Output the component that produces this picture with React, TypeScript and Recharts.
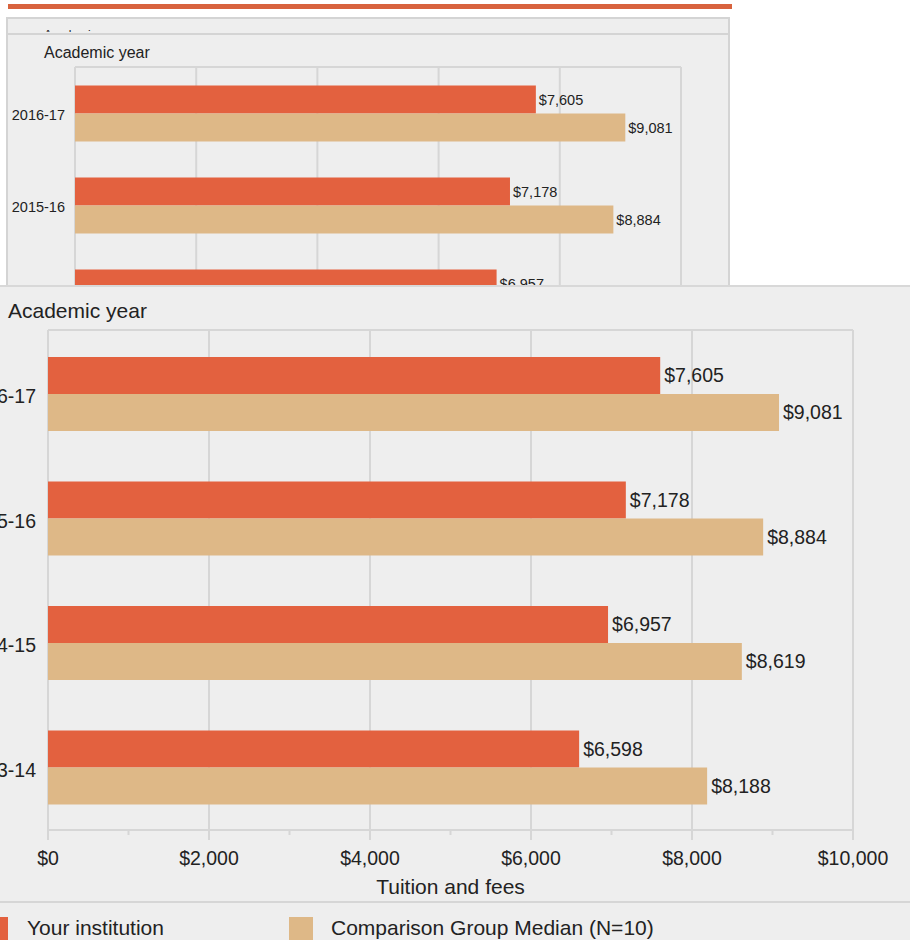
import React from "react";
import {
  BarChart,
  Bar,
  XAxis,
  YAxis,
  CartesianGrid,
  LabelList
} from "recharts";

const FONT = '"Liberation Sans", Arial, Helvetica, sans-serif';

const years = ["2016-17", "2015-16", "2014-15", "2013-14"];
const institution = [7605, 7178, 6957, 6598];
const groupMedian = [9081, 8884, 8619, 8188];

const xTicks = [0, 1000, 2000, 3000, 4000, 5000, 6000, 7000, 8000, 9000, 10000];
const majorTicks = [0, 2000, 4000, 6000, 8000, 10000];

const series = [
  { key: "institution", name: "Your institution", color: "#E3613F" },
  { key: "median", name: "Comparison Group Median (N=10)", color: "#DEB887" }
];

const data = years.map((year, i) => ({
  year,
  institution: institution[i],
  median: groupMedian[i]
}));

const GRID = "#d6d6d6";
const TEXT = "#222";

const money = (v: any) => "$" + Number(v).toLocaleString("en-US");

// tick with long marks on the labelled values and short marks in between
function makeTick(size: number, majorLen: number, minorLen: number, gap: number) {
  return (props: any) => {
    const { x, y, payload } = props;
    const major = payload.value % 2000 === 0;
    return (
      <g>
        <line x1={x} x2={x} y1={y} y2={y + (major ? majorLen : minorLen)} stroke={GRID} strokeWidth={2} />
        {major && (
          <text x={x} y={y + gap} dy="0.35em" textAnchor="middle" fontSize={size} fill={TEXT}>
            {money(payload.value)}
          </text>
        )}
      </g>
    );
  };
}

const verticalLines = ({ offset }: any) =>
  majorTicks.map((v) => offset.left + (v / 10000) * offset.width);
const topLine = ({ offset }: any) => [offset.top];

function TuitionChart({
  width,
  height,
  margin,
  yWidth,
  xHeight,
  valueSize,
  titleSize,
  labelGap,
  tickGap,
  padTop,
  titleOffset,
  scale
}: any) {
  return (
    <BarChart
      width={width}
      height={height}
      data={data}
      layout="vertical"
      margin={margin}
      barCategoryGap="20%"
      barGap={0}
    >
      <CartesianGrid
        stroke={GRID}
        strokeWidth={2}
        verticalCoordinatesGenerator={verticalLines}
        horizontalCoordinatesGenerator={topLine}
      />
      <XAxis
        type="number"
        domain={[0, 10000]}
        ticks={xTicks}
        interval={0}
        tickSize={0}
        tickMargin={0}
        tickLine={false}
        axisLine={{ stroke: GRID, strokeWidth: 2 }}
        tick={makeTick(valueSize, 10 * scale, 5 * scale, tickGap)}
        height={xHeight}
        label={{
          value: "Tuition and fees",
          position: "insideBottom",
          offset: titleOffset,
          fontSize: titleSize,
          fill: TEXT
        }}
      />
      <YAxis
        type="category"
        dataKey="year"
        width={yWidth}
        tickSize={0}
        tickMargin={labelGap}
        tickLine={false}
        axisLine={false}
        padding={{ top: padTop, bottom: 0 }}
        tick={{ fontSize: valueSize, fill: TEXT, dy: 2 * scale }}
      />
      {series.map((s) => (
        <Bar key={s.key} dataKey={s.key} name={s.name} fill={s.color} isAnimationActive={false}>
          <LabelList
            dataKey={s.key}
            position="right"
            offset={4 * scale}
            formatter={money}
            fontSize={valueSize}
            fill={TEXT}
          />
        </Bar>
      ))}
    </BarChart>
  );
}

export default function App() {
  return (
    <div
      style={{
        position: "absolute",
        left: 0,
        top: 0,
        width: 910,
        height: 940,
        overflow: "hidden",
        background: "#fff",
        fontFamily: FONT,
        color: TEXT
      }}
    >
      {/* header stripe */}
      <div style={{ position: "absolute", left: 8, top: 4, width: 724, height: 5, background: "#D8633E" }} />

      {/* small chart in the background, cut where the enlarged view begins */}
      <div
        style={{
          position: "absolute",
          left: 6,
          top: 17,
          width: 724,
          height: 270,
          background: "#eee",
          border: "2px solid #d4d4d4",
          borderBottom: "none",
          boxSizing: "border-box",
          overflow: "hidden"
        }}
      >
        <div style={{ position: "absolute", left: 0, top: 0, width: 720, height: 13, overflow: "hidden" }}>
          <div style={{ position: "absolute", left: 36, top: 9, fontSize: 12, lineHeight: "14px" }}>
            Academic year
          </div>
        </div>
        <div style={{ position: "absolute", left: 0, top: 14, width: 720, height: 2, background: "#d4d4d4" }} />
        <div style={{ position: "absolute", left: 36, top: 24, fontSize: 16, lineHeight: "20px" }}>
          Academic year
        </div>
        <div style={{ position: "absolute", left: 0, top: 15 }}>
          <TuitionChart
            width={700}
            height={460}
            margin={{ top: 33, right: 27, bottom: 0, left: 0 }}
            yWidth={67}
            xHeight={59}
            valueSize={14.5}
            titleSize={16}
            labelGap={10}
            tickGap={22}
            padTop={0}
            titleOffset={6}
            scale={0.75}
          />
        </div>
      </div>

      {/* enlarged chart on top */}
      <div
        style={{
          position: "absolute",
          left: 0,
          top: 285,
          width: 910,
          height: 655,
          background: "#eee",
          overflow: "hidden"
        }}
      >
        <div style={{ position: "absolute", left: 0, top: 0, width: 910, height: 2, background: "#d8d8d8" }} />
        <div style={{ position: "absolute", left: 8, top: 13, fontSize: 21, lineHeight: "26px" }}>
          Academic year
        </div>
        <div style={{ position: "absolute", left: -40, top: 0 }}>
          <TuitionChart
            width={950}
            height={617}
            margin={{ top: 45, right: 57, bottom: 0, left: 0 }}
            yWidth={88}
            xHeight={72}
            valueSize={19.5}
            titleSize={21}
            labelGap={12}
            tickGap={28}
            padTop={2}
            titleOffset={8}
            scale={1}
          />
        </div>
        <div style={{ position: "absolute", left: 0, top: 616, width: 910, height: 2, background: "#d6d6d6" }} />
        {series.map((s, i) => (
          <React.Fragment key={s.key}>
            <div
              style={{
                position: "absolute",
                left: i === 0 ? -16 : 289,
                top: 632,
                width: 24,
                height: 24,
                background: s.color
              }}
            />
            <div
              style={{
                position: "absolute",
                left: i === 0 ? 27 : 331,
                top: 630,
                fontSize: 21,
                lineHeight: "26px",
                whiteSpace: "nowrap"
              }}
            >
              {s.name}
            </div>
          </React.Fragment>
        ))}
      </div>
    </div>
  );
}
